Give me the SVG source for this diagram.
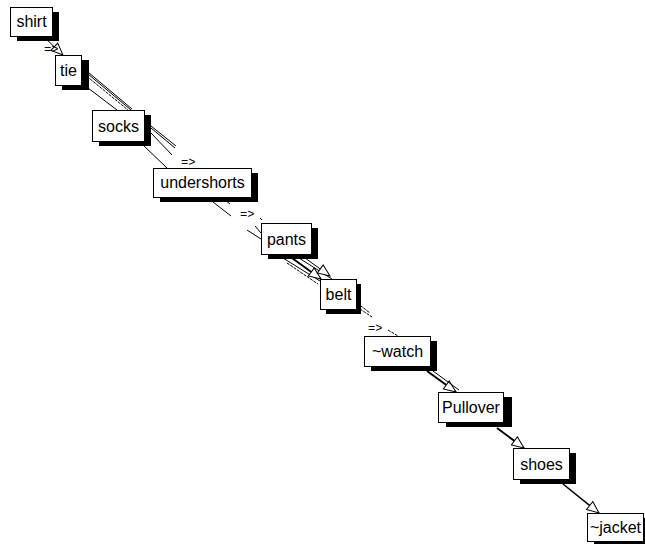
<svg xmlns="http://www.w3.org/2000/svg" width="645" height="544" viewBox="0 0 645 544">
<defs>
<style>
.shadow{fill:#000}
.box{fill:#fff;stroke:#000;stroke-width:1}
.lbl{font-family:"Liberation Sans",Arial,sans-serif;font-size:16px;fill:#000;text-anchor:middle}
.edge{stroke:#000;stroke-width:1;fill:none}
.thick{stroke:#000;stroke-width:2;fill:none}
.dash{stroke:#000;stroke-width:1;fill:none;stroke-dasharray:3 1}
.elbl{font-family:"Liberation Mono","DejaVu Sans Mono",monospace;font-size:12px;fill:#000}
</style>
<marker id="tri" viewBox="0 0 14 12" refX="13" refY="6" markerWidth="14" markerHeight="12" markerUnits="userSpaceOnUse" orient="auto">
<path d="M1,1 L13,6 L1,11 Z" fill="#fff" stroke="#000" stroke-width="1"/>
</marker>
</defs>
<rect width="645" height="544" fill="#fff"/>
<g id="connectors">
<!-- shirt -> tie -->
<line class="edge" x1="44" y1="37" x2="63" y2="55" marker-end="url(#tri)"/>
<text class="elbl" x="44" y="53">=&gt;</text>
<!-- tie -> socks -->
<line class="edge" x1="82" y1="67" x2="132" y2="109"/>
<line class="edge" x1="82" y1="69" x2="131" y2="110"/>
<line class="dash" x1="84" y1="74" x2="128" y2="110"/>
<line class="edge" x1="88" y1="88" x2="117" y2="110"/>
<!-- socks -> undershorts -->
<line class="edge" x1="151" y1="126" x2="176" y2="146"/>
<line class="edge" x1="151" y1="128" x2="175" y2="148"/>
<line class="edge" x1="151" y1="133" x2="172" y2="155"/>
<line class="edge" x1="143" y1="145" x2="167" y2="168"/>
<text class="elbl" x="181" y="166">=&gt;</text>
<!-- undershorts -> pants -->
<line class="edge" x1="213" y1="202" x2="231" y2="216"/>
<line class="edge" x1="225" y1="200" x2="230" y2="204"/>
<text class="elbl" x="240" y="218">=&gt;</text>
<line class="edge" x1="260" y1="218" x2="262" y2="220"/>
<line class="edge" x1="247" y1="230" x2="261" y2="239"/>
<line class="edge" x1="255" y1="226" x2="261" y2="233"/>
<!-- pants -> belt -->
<line class="edge" x1="283" y1="258" x2="320" y2="281"/>
<line class="thick" x1="292" y1="258" x2="321" y2="279" marker-end="url(#tri)"/>
<line class="edge" x1="299" y1="258" x2="332" y2="279"/>
<line class="edge" x1="305" y1="258" x2="330" y2="276" marker-end="url(#tri)"/>
<line class="dash" x1="287" y1="263" x2="318" y2="284"/>
<line class="dash" x1="357" y1="303" x2="370" y2="313"/>
<!-- belt -> ~watch -->
<line class="dash" x1="360" y1="309" x2="372" y2="317"/>
<text class="elbl" x="368" y="332">=&gt;</text>
<line class="dash" x1="388" y1="330" x2="398" y2="336"/>
<!-- ~watch -> Pullover -->
<line class="thick" x1="427" y1="371" x2="456" y2="392" marker-end="url(#tri)"/>
<line class="edge" x1="433" y1="371" x2="459" y2="390"/>
<!-- Pullover -> shoes -->
<line class="thick" x1="497" y1="428" x2="524" y2="448" marker-end="url(#tri)"/>
<!-- shoes -> ~jacket -->
<line class="edge" style="stroke-width:1.6" x1="563" y1="484" x2="599" y2="513" marker-end="url(#tri)"/>
</g>
<g id="n-shirt">
<rect class="shadow" x="17" y="12" width="42" height="29"/>
<rect class="box" x="10.5" y="7.5" width="42" height="29"/>
<text class="lbl" x="31.5" y="27">shirt</text>
</g>
<g id="n-tie">
<rect class="shadow" x="62" y="60" width="27" height="30"/>
<rect class="box" x="55.5" y="55.5" width="26" height="30"/>
<text class="lbl" x="68.5" y="76">tie</text>
</g>
<g id="n-socks">
<rect class="shadow" x="99" y="115" width="52" height="31"/>
<rect class="box" x="92.5" y="110.5" width="52" height="31"/>
<text class="lbl" x="118.5" y="132">socks</text>
</g>
<g id="n-undershorts">
<rect class="shadow" x="160" y="173" width="98" height="29"/>
<rect class="box" x="153.5" y="168.5" width="98" height="29"/>
<text class="lbl" x="202.5" y="188">undershorts</text>
</g>
<g id="n-pants">
<rect class="shadow" x="268" y="228" width="50" height="31"/>
<rect class="box" x="261.5" y="223.5" width="50" height="31"/>
<text class="lbl" x="286.5" y="245">pants</text>
</g>
<g id="n-belt">
<rect class="shadow" x="326" y="284" width="35" height="30"/>
<rect class="box" x="320.5" y="279.5" width="36" height="30"/>
<text class="lbl" x="338.5" y="300">belt</text>
</g>
<g id="n-watch">
<rect class="shadow" x="371" y="341" width="66" height="30"/>
<rect class="box" x="364.5" y="336.5" width="66" height="30"/>
<text class="lbl" x="397.5" y="357">~watch</text>
</g>
<g id="n-pullover">
<rect class="shadow" x="446" y="397" width="66" height="30"/>
<rect class="box" x="438.5" y="392.5" width="65" height="30"/>
<text class="lbl" x="471" y="413">Pullover</text>
</g>
<g id="n-shoes">
<rect class="shadow" x="520" y="453" width="56" height="31"/>
<rect class="box" x="513.5" y="448.5" width="56" height="31"/>
<text class="lbl" x="541.5" y="470">shoes</text>
</g>
<g id="n-jacket">
<rect class="shadow" x="594" y="518" width="56" height="28"/>
<rect class="box" x="587.5" y="513.5" width="56" height="28"/>
<text class="lbl" x="615.5" y="533">~jacket</text>
</g>
</svg>
